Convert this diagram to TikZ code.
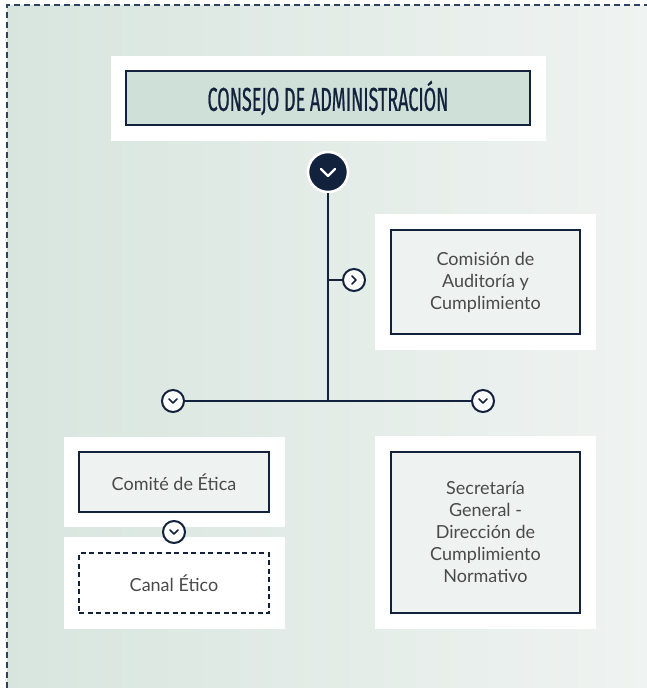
\documentclass[tikz,border=0pt]{standalone}
\usepackage{fontspec}
\setmainfont{Lato}
\newfontfamily\condfont[FakeStretch=0.545, FakeBold=0.6]{Fira Sans}
\definecolor{bgL}{HTML}{D8E5DF}
\definecolor{bgR}{HTML}{EFF3F1}
\definecolor{navy}{HTML}{13223C}
\definecolor{frameC}{HTML}{2E4360}
\definecolor{headfill}{HTML}{CFE0D8}
\definecolor{boxfill}{HTML}{EEF2F1}
\definecolor{txt}{HTML}{4A4A4A}
\tikzset{
  outerbox/.style={fill=white, draw=none, inner sep=0pt},
  innerbox/.style={fill=boxfill, draw=navy, line width=1.3pt, inner sep=0pt, align=center,
    text=txt, font=\fontsize{18}{22}\selectfont},
  dashbox/.style={innerbox, fill=white, dash pattern=on 5pt off 3.5pt},
  link/.style={draw=navy, line width=2pt},
  smallc/.style={circle, fill=white, draw=navy, line width=2pt, minimum size=22pt, inner sep=0pt},
  bigc/.style={circle, fill=navy, draw=white, line width=2.5pt, minimum size=40pt, inner sep=0pt},
  chev/.style={line width=1.6pt, line cap=round, line join=round}
}
\begin{document}
\begin{tikzpicture}[x=1pt,y=-1pt]
\useasboundingbox (0,0) rectangle (647,688);
\shade[left color=bgL, right color=bgR] (7,5) rectangle (647,688);
\draw[frameC, line width=1.2pt, dash pattern=on 6pt off 4pt] (7,688) -- (7,5) -- (647,5);

% Consejo
\node[outerbox, minimum width=435pt, minimum height=85pt] (cO) at (328.5,98.5) {};
\node[innerbox, fill=headfill, line width=1.5pt, minimum width=404pt, minimum height=54pt, text=navy,
  font=\condfont\fontsize{33}{36}\selectfont] (cI) at (328,98) {CONSEJO DE ADMINISTRACIÓN};

% Comision
\node[outerbox, minimum width=221pt, minimum height=136pt] (aO) at (485.5,282) {};
\node[innerbox, minimum width=189pt, minimum height=104pt] (aI) at (485.5,282) {Comisión de\\Auditoría y\\Cumplimiento};

% Comite
\node[outerbox, minimum width=221pt, minimum height=90pt] (eO) at (174.5,482) {};
\node[innerbox, minimum width=190pt, minimum height=60pt] (eI) at (174,482) {Comité de Ética};

% Canal
\node[outerbox, minimum width=221pt, minimum height=92pt] (kO) at (174.5,583) {};
\node[dashbox, minimum width=190pt, minimum height=60pt] (kI) at (174,583) {Canal Ético};

% Secretaria
\node[outerbox, minimum width=221pt, minimum height=193pt] (sO) at (485.5,532.5) {};
\node[innerbox, minimum width=189pt, minimum height=161pt] (sI) at (485.5,532.5) {Secretaría\\General -\\Dirección de\\Cumplimiento\\Normativo};

% connectors
\coordinate (jT) at (328,280);
\coordinate (jB) at (328,401);
\node[bigc] (bc) at (328,172) {};
\node[smallc] (rc) at (354,280) {};
\node[smallc] (lc) at (173,401) {};
\node[smallc] (rrc) at (483,401) {};
\node[smallc] (ec) at (174,532) {};
\draw[link] (bc.south) -- (jB);
\draw[link] (jT) -- (rc.west);
\draw[link] (lc.east) -- (rrc.west);

% chevrons
\draw[white, line width=2.4pt, line cap=round, line join=round] ([shift={(-7,-3)}]bc.center) -- ([shift={(0,4)}]bc.center) -- ([shift={(7,-3)}]bc.center);
\draw[navy, chev] ([shift={(-2,-4)}]rc.center) -- ([shift={(2,0)}]rc.center) -- ([shift={(-2,4)}]rc.center);
\foreach \c in {lc,rrc,ec}{
  \draw[navy, chev] ([shift={(-4,-2)}]\c.center) -- ([shift={(0,2)}]\c.center) -- ([shift={(4,-2)}]\c.center);
}
\end{tikzpicture}
\end{document}
